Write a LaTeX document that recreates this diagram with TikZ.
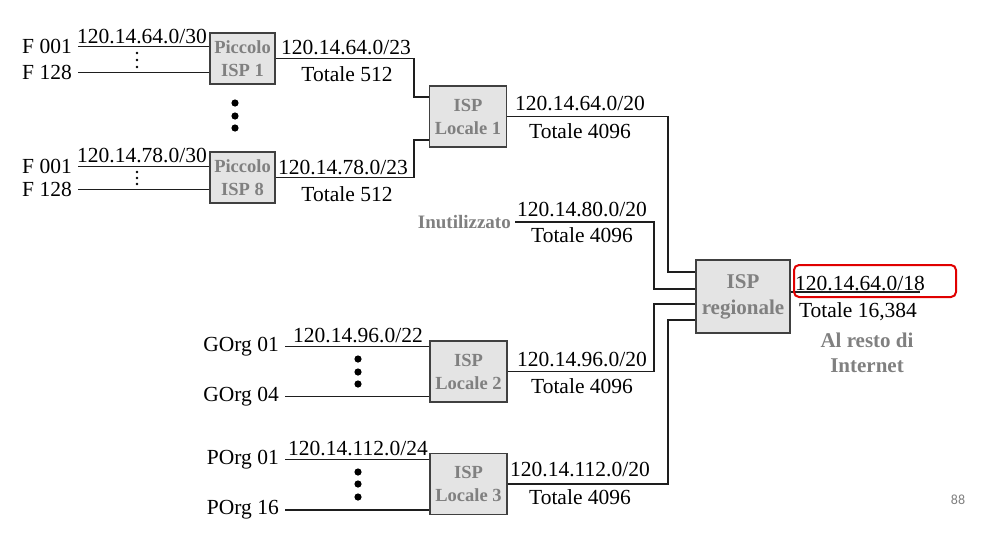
\documentclass[tikz,border=0pt]{standalone}
\usepackage{fontspec}
\setmainfont{Liberation Serif}
\newfontfamily\pagefont{Carlito}
\definecolor{boxfill}{HTML}{E4E4E4}
\definecolor{boxtext}{HTML}{808080}
\definecolor{linecol}{HTML}{1E1E1E}
\definecolor{hilite}{HTML}{E00000}
\begin{document}
\begin{tikzpicture}[x=1pt,y=-1pt,
  lbl/.style={font=\fontsize{21.5}{24}\selectfont, text=black, inner sep=0pt, yshift=-1.5pt},
  src/.style={font=\fontsize{21.5}{24}\selectfont, text=black, inner sep=0pt, anchor=east},
  glbl/.style={font=\fontsize{19}{22}\selectfont\bfseries, text=boxtext, inner sep=0pt, align=center},
  isp/.style={draw=black!75, fill=boxfill, line width=1.4pt, inner sep=0pt,
    font=\fontsize{18.5}{23}\selectfont\bfseries, text=boxtext, align=center},
  small/.style={isp, minimum width=65pt, minimum height=51pt},
  local/.style={isp, minimum width=77pt, minimum height=61pt},
  wire/.style={draw=linecol, line width=1.2pt},
]
\useasboundingbox (0,0) rectangle (997,536);

% boxes
\node[small] (p1) at (242.5,58.5) {Piccolo\\ISP 1};
\node[small] (p8) at (242.5,177.5) {Piccolo\\ISP 8};
\node[local] (l1) at (468,116.5) {ISP\\Locale 1};
\node[local] (l2) at (468.5,371.5) {ISP\\Locale 2};
\node[local] (l3) at (468.5,484) {ISP\\Locale 3};
\node[isp, minimum width=94pt, minimum height=73pt, font=\fontsize{21}{26}\selectfont\bfseries] (reg) at (743,296.5) {ISP\\regionale};

% Piccolo ISP 1 group
\node[src] (f1a) at (72,46.5) {F 001};
\node[src] (f1b) at (72,72.5) {F 128};
\draw[wire] ([xshift=6pt]f1a.east) -- (f1a.east -| p1.west);
\draw[wire] ([xshift=6pt]f1b.east) -- (f1b.east -| p1.west);
\node[lbl] (a1) at (142,35) {120.14.64.0/30};
\foreach \yy in {53,60,67} \fill (137,\yy) circle (1.3);
\node[lbl] (a1o) at (346,46) {120.14.64.0/23};
\node[lbl] (a1t) at (347,73) {Totale 512};

\foreach \yy in {103,116,128} \fill (235,\yy) circle (3.6);

% Piccolo ISP 8 group
\node[src] (f8a) at (72,166.5) {F 001};
\node[src] (f8b) at (72,189.5) {F 128};
\draw[wire] ([xshift=6pt]f8a.east) -- (f8a.east -| p8.west);
\draw[wire] ([xshift=6pt]f8b.east) -- (f8b.east -| p8.west);
\node[lbl] (a8) at (142,154) {120.14.78.0/30};
\foreach \yy in {172,178,184} \fill (137,\yy) circle (1.3);
\node[lbl] (a8o) at (343,166) {120.14.78.0/23};
\node[lbl] (a8t) at (347,193) {Totale 512};

% to Locale 1
\coordinate (j1) at (414,97);
\coordinate (j8) at (414,140);
\draw[wire] (p1.east) -| (j1) -- (j1 -| l1.west);
\draw[wire] (p8.east) -| (j8) -- (j8 -| l1.west);

% Locale 1 to regional
\coordinate (r1) at (668,272);
\draw[wire] (l1.east) -| (r1) -- (r1 -| reg.west);
\node[lbl] (b1) at (580,102) {120.14.64.0/20};
\node[lbl] (b1t) at (580,130) {Totale 4096};

% Inutilizzato
\node[glbl, anchor=east] (inu) at (511,222) {Inutilizzato};
\coordinate (r2) at (654,289);
\draw[wire] ([xshift=4pt]inu.east) -| (r2) -- (r2 -| reg.west);
\node[lbl] (b2) at (582,208) {120.14.80.0/20};
\node[lbl] (b2t) at (582,234) {Totale 4096};

% Locale 2 group
\node[src] (g1) at (279,346.5) {GOrg 01};
\node[src] (g4) at (279,396.5) {GOrg 04};
\draw[wire] ([xshift=6pt]g1.east) -- (g1.east -| l2.west);
\draw[wire] ([xshift=6pt]g4.east) -- (g4.east -| l2.west);
\node[lbl] (c2) at (358,334) {120.14.96.0/22};
\foreach \yy in {359,372,384} \fill (358,\yy) circle (3.6);
\coordinate (r3) at (654,304);
\draw[wire] (l2.east) -| (r3) -- (r3 -| reg.west);
\node[lbl] (b3) at (582,358) {120.14.96.0/20};
\node[lbl] (b3t) at (582,385) {Totale 4096};

% Locale 3 group
\node[src] (q1) at (279,459.5) {POrg 01};
\node[src] (q16) at (279,510) {POrg 16};
\draw[wire] ([xshift=6pt]q1.east) -- (q1.east -| l3.west);
\draw[wire] ([xshift=6pt]q16.east) -- (q16.east -| l3.west);
\node[lbl] (c3) at (358,447) {120.14.112.0/24};
\foreach \yy in {472,484,497} \fill (358,\yy) circle (3.6);
\coordinate (r4) at (668,320);
\draw[wire] (l3.east) -| (r4) -- (r4 -| reg.west);
\node[lbl] (b4) at (580,468) {120.14.112.0/20};
\node[lbl] (b4t) at (580,496) {Totale 4096};

% regional output
\coordinate (out) at (920,292);
\draw[wire] (reg.east |- out) -- (out);
\node[lbl] (o1) at (860,282) {120.14.64.0/18};
\node[lbl] (o2) at (858,310) {Totale 16,384};
\node[glbl, font=\fontsize{21}{25}\selectfont\bfseries] (rest) at (867,353) {Al resto di\\Internet};
\draw[hilite, line width=2pt, rounded corners=5pt] (794,265) rectangle (956,297);

\node[font=\pagefont\fontsize{14}{16}\selectfont, text=gray, inner sep=0pt] (pg) at (958,500) {88};
\end{tikzpicture}
\end{document}
